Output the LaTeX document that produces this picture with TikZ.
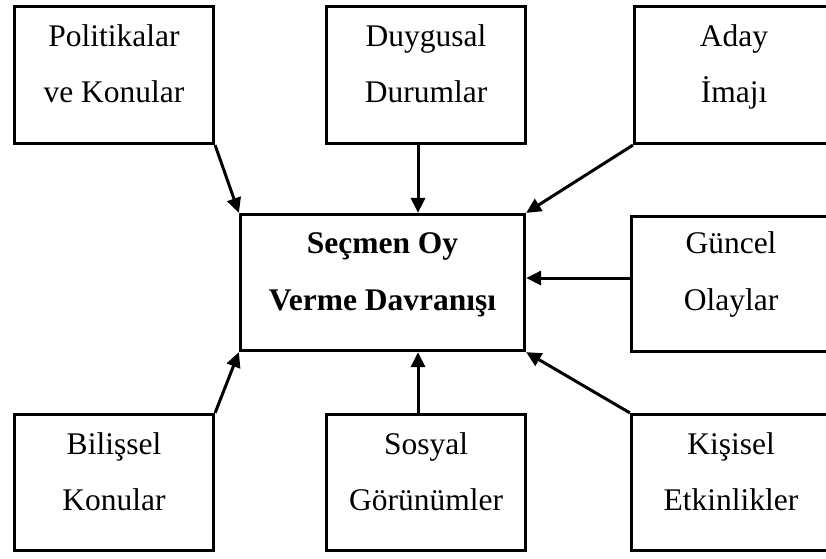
\documentclass[tikz,border=0pt]{standalone}
\usepackage{fontspec}
\setmainfont{Liberation Serif}
\usetikzlibrary{arrows.meta}
\begin{document}
\begin{tikzpicture}[x=1pt,y=-1pt,
  box/.style={draw, line width=3.2pt, rectangle, minimum width=199pt, minimum height=137pt, inner sep=0pt},
  txt/.style={anchor=base, inner sep=0pt, font=\fontsize{31.5}{36}\selectfont},
  boldtxt/.style={txt, font=\fontsize{31.5}{36}\selectfont\bfseries},
  arr/.style={line width=3pt, -{Triangle[length=15pt,width=14pt]}}]
\useasboundingbox (0,0) rectangle (826,558);
% boxes
\node[box] (pol) at (114,75) {};
\node[box] (duy) at (426,75) {};
\node[box] (ada) at (734,75) {};
\node[box, minimum width=284pt, minimum height=136pt] (cen) at (382.5,282.5) {};
\node[box, minimum height=135pt] (gun) at (731,284) {};
\node[box, minimum height=136pt] (bil) at (114,482.5) {};
\node[box, minimum height=136pt] (sos) at (426,482.5) {};
\node[box, minimum height=136pt] (kis) at (731,482.5) {};
% labels
\node[txt] (pol1) at (114,46) {Politikalar};
\node[txt] (pol2) at (114,102) {ve Konular};
\node[txt] (duy1) at (426,46) {Duygusal};
\node[txt] (duy2) at (426,102) {Durumlar};
\node[txt] (ada1) at (734,46) {Aday};
\node[txt] (ada2) at (734,102) {İmajı};
\node[boldtxt] (cen1) at (382.5,253) {Seçmen Oy};
\node[boldtxt] (cen2) at (382.5,310) {Verme Davranışı};
\node[txt] (gun1) at (731,253) {Güncel};
\node[txt] (gun2) at (731,310) {Olaylar};
\node[txt] (bil1) at (114,454) {Bilişsel};
\node[txt] (bil2) at (114,510) {Konular};
\node[txt] (sos1) at (426,454) {Sosyal};
\node[txt] (sos2) at (426,510) {Görünümler};
\node[txt] (kis1) at (731,454) {Kişisel};
\node[txt] (kis2) at (731,510) {Etkinlikler};
% connectors
\draw[arr] (pol.south east) -- (cen.north west);
\draw[arr] ([xshift=-8pt]duy.south) -- ([xshift=-8pt]duy.south |- cen.north);
\draw[arr] (ada.south west) -- (cen.north east);
\draw[arr] ([yshift=6pt]gun.west) -- ([yshift=6pt]gun.west -| cen.east);
\draw[arr] (bil.north east) -- (cen.south west);
\draw[arr] ([xshift=-8pt]sos.north) -- ([xshift=-8pt]sos.north |- cen.south);
\draw[arr] (kis.north west) -- (cen.south east);
\end{tikzpicture}
\end{document}
